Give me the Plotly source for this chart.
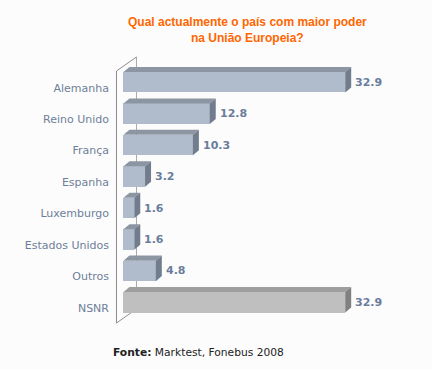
import plotly.graph_objects as go

categories = ["Alemanha", "Reino Unido", "França", "Espanha", "Luxemburgo",
              "Estados Unidos", "Outros", "NSNR"]
values = [32.9, 12.8, 10.3, 3.2, 1.6, 1.6, 4.8, 32.9]
value_labels = ["32.9", "12.8", "10.3", "3.2", "1.6", "1.6", "4.8", "32.9"]
title_text = "Qual actualmente o país com maior poder<br>na União Europeia?"
source_bold = "Fonte:"
source_text = " Marktest, Fonebus 2008"

n = len(categories)
pos = [n - 1 - i for i in range(n)]

BAR_W = 0.652
SHIFT = 0.175
DX = 0.89
DY = 0.16

front_c = ["#B0BCCB"] * (n - 1) + ["#BFBFBF"]
top_c = ["#8C96A3"] * (n - 1) + ["#9E9E9E"]
side_c = ["#717D8C"] * (n - 1) + ["#808080"]

LABEL_C = "#6E7F99"
VAL_C = "#6A7D9B"
BG = "#FCFCFC"

fig = go.Figure()
fig.add_trace(go.Bar(
    y=pos, x=values, orientation="h", width=BAR_W, offset=SHIFT - BAR_W / 2,
    marker=dict(color=front_c, line=dict(width=0)), hoverinfo="skip",
    showlegend=False))

for i in range(n):
    v = values[i]
    yb = pos[i] + SHIFT - BAR_W / 2
    yt = yb + BAR_W
    fig.add_trace(go.Scatter(
        x=[0, DX, v + DX, v, 0], y=[yt, yt + DY, yt + DY, yt, yt],
        fill="toself", fillcolor=top_c[i], mode="lines", line=dict(width=0),
        hoverinfo="skip", showlegend=False))
    fig.add_trace(go.Scatter(
        x=[v, v + DX, v + DX, v, v], y=[yb, yb + DY, yt + DY, yt, yb],
        fill="toself", fillcolor=side_c[i], mode="lines", line=dict(width=0),
        hoverinfo="skip", showlegend=False))
    fig.add_annotation(x=v + DX + 0.3, y=pos[i] + SHIFT, text=value_labels[i],
                       xanchor="left", yanchor="middle", showarrow=False,
                       font=dict(family="DejaVu Sans", size=11, color=VAL_C,
                                 weight="bold"))

# 3D wall frame
wall_left_x, wall_back_x = -1.04, 1.93
wall_top_l, wall_top_b = 7.532, 7.977
wall_bot_l, wall_bot_b = -0.483, -0.038
fig.add_shape(type="line", x0=wall_back_x, x1=wall_back_x, y0=wall_bot_b, y1=wall_top_b,
              line=dict(color="#A8A8A8", width=1), layer="below")
fig.add_shape(type="line", x0=wall_left_x, x1=wall_back_x, y0=wall_bot_l, y1=wall_bot_b,
              line=dict(color="#909090", width=1), layer="below")
fig.add_shape(type="line", x0=wall_left_x, x1=wall_left_x, y0=wall_bot_l, y1=wall_top_l,
              line=dict(color="#8C8C8C", width=1), layer="above")
fig.add_shape(type="line", x0=wall_left_x, x1=wall_back_x, y0=wall_top_l, y1=wall_top_b,
              line=dict(color="#8C8C8C", width=1), layer="above")

fig.add_annotation(xref="paper", yref="paper", x=(247 - 110) / 310, y=1 + (50 - 13) / 283,
                   text=title_text, showarrow=False, xanchor="center", yanchor="top",
                   align="center",
                   font=dict(family="Liberation Sans", size=12, color="#FF6600",
                             weight="bold"))
fig.add_annotation(xref="paper", yref="paper", x=(198 - 110) / 310, y=-(352 - 333) / 283,
                   text="<b>" + source_bold + "</b>" + source_text, showarrow=False,
                   xanchor="center", yanchor="middle",
                   font=dict(family="DejaVu Sans", size=10.7, color="#222222"))

fig.update_layout(
    width=432, height=369,
    margin=dict(l=110, r=12, t=50, b=36),
    paper_bgcolor=BG, plot_bgcolor=BG,
    bargap=0,
    xaxis=dict(range=[-2, 44], visible=False, fixedrange=True),
    yaxis=dict(range=[-0.8, 8.2], tickvals=pos, ticktext=categories,
               showgrid=False, zeroline=False, showline=False, ticks="",
               tickfont=dict(family="DejaVu Sans", size=11, color=LABEL_C),
               fixedrange=True, automargin=False),
    showlegend=False,
)

fig.write_html("out.html", config={"displayModeBar": False},
               post_script="document.body.style.margin='0';document.body.style.background='" + BG + "';")
